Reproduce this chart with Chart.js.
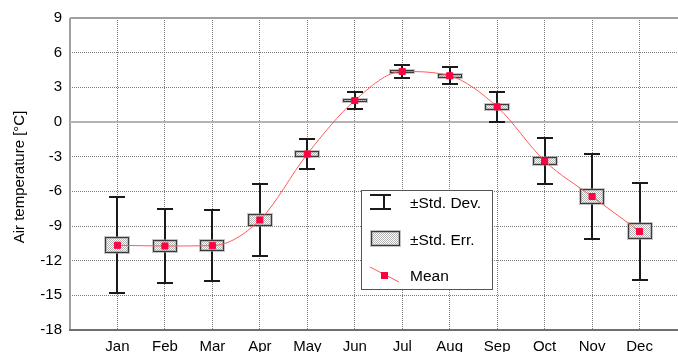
<!DOCTYPE html>
<html>
<head>
<meta charset="utf-8">
<script src="https://cdn.jsdelivr.net/npm/chart.js@4/dist/chart.umd.min.js"></script>
<style>
  html, body { margin: 0; padding: 0; background: #fff; }
  #wrap { width: 678px; height: 352px; overflow: hidden; position: relative; }
  canvas { display: block; }
</style>
</head>
<body>
<div id="wrap"><canvas id="c" width="700" height="365"></canvas></div>
<script>
// Monthly air temperature statistics
const months = ['Jan', 'Feb', 'Mar', 'Apr', 'May', 'Jun', 'Jul', 'Aug', 'Sep', 'Oct', 'Nov', 'Dec'];
const meanTemp = [-10.67, -10.73, -10.70, -8.48, -2.77, 1.86, 4.37, 4.00, 1.31, -3.37, -6.45, -9.47];
const stdDev   = [4.17, 3.23, 3.05, 3.14, 1.30, 0.74, 0.53, 0.72, 1.30, 1.96, 3.69, 4.16];
const stdErr   = [0.69, 0.53, 0.50, 0.53, 0.23, 0.15, 0.12, 0.16, 0.23, 0.33, 0.62, 0.69];
const yTicks   = [-18, -15, -12, -9, -6, -3, 0, 3, 6, 9];

const FONT = '"Liberation Sans", Arial, sans-serif';
const legendLabels = ['\u00B1Std. Dev.', '\u00B1Std. Err.', 'Mean'];
const yTitle = 'Air temperature [\u00B0C]';

const meanColor = 'rgb(255,0,64)';
const lineColor = 'rgb(255,90,90)';

// fine dotted fill used for the standard-error boxes
function dotPattern(ctx) {
  const p = document.createElement('canvas');
  p.width = 2; p.height = 2;
  const pc = p.getContext('2d');
  pc.fillStyle = '#ffffff';
  pc.fillRect(0, 0, 2, 2);
  pc.fillStyle = '#b4b4b4';
  pc.fillRect(0, 0, 1, 1);
  pc.fillRect(1, 1, 1, 1);
  return ctx.createPattern(p, 'repeat');
}

function drawSeBox(ctx, x0, y0, x1, y1, pattern) {
  ctx.fillStyle = pattern;
  ctx.fillRect(x0, y0, x1 - x0, y1 - y0);
  ctx.lineWidth = 3;
  ctx.strokeStyle = 'rgba(150,150,150,0.55)';
  ctx.strokeRect(x0 + 0.5, y0 + 0.5, x1 - x0 - 1, y1 - y0 - 1);
  ctx.lineWidth = 1;
  ctx.strokeStyle = '#3a3a3a';
  ctx.strokeRect(x0 + 0.5, y0 + 0.5, x1 - x0 - 1, y1 - y0 - 1);
}

// frame, zero line, whiskers and SE boxes (drawn under the mean line)
const errorBars = {
  id: 'errorBars',
  beforeDatasetsDraw(chart) {
    const { ctx, chartArea: a, scales: { x, y } } = chart;
    const pattern = dotPattern(ctx);
    ctx.save();

    // plot frame
    ctx.lineWidth = 2;
    ctx.strokeStyle = '#a0a0a0';
    ctx.beginPath();
    ctx.moveTo(a.left, a.top); ctx.lineTo(a.right, a.top);
    ctx.moveTo(a.left, a.top); ctx.lineTo(a.left, a.bottom);
    ctx.moveTo(a.right, a.top); ctx.lineTo(a.right, a.bottom);
    ctx.stroke();
    ctx.strokeStyle = '#6e6e6e';
    ctx.beginPath();
    ctx.moveTo(a.left - 1, a.bottom); ctx.lineTo(a.right, a.bottom);
    ctx.stroke();

    // zero reference line
    const y0 = Math.round(y.getPixelForValue(0));
    ctx.strokeStyle = '#b4b4b4';
    ctx.beginPath();
    ctx.moveTo(a.left, y0); ctx.lineTo(a.right, y0);
    ctx.stroke();

    months.forEach((m, i) => {
      const px = Math.round(x.getPixelForValue(i + 1));
      const top = Math.round(y.getPixelForValue(meanTemp[i] + stdDev[i]));
      const bot = Math.round(y.getPixelForValue(meanTemp[i] - stdDev[i]));
      // whisker
      ctx.lineWidth = 2;
      ctx.strokeStyle = '#1a1a1a';
      ctx.beginPath();
      ctx.moveTo(px, top); ctx.lineTo(px, bot);
      ctx.moveTo(px - 8, top); ctx.lineTo(px + 8, top);
      ctx.moveTo(px - 8, bot); ctx.lineTo(px + 8, bot);
      ctx.stroke();
      // standard-error box
      const bt = Math.round(y.getPixelForValue(meanTemp[i] + stdErr[i]));
      const bb = Math.round(y.getPixelForValue(meanTemp[i] - stdErr[i]));
      drawSeBox(ctx, px - 12, bt, px + 12, Math.max(bb, bt + 3), pattern);
    });
    ctx.restore();
  },
  afterDraw(chart) {
    const { ctx } = chart;
    const pattern = dotPattern(ctx);
    ctx.save();

    // y axis title
    ctx.fillStyle = '#000';
    ctx.font = '15px ' + FONT;
    ctx.textAlign = 'center';
    ctx.textBaseline = 'middle';
    ctx.translate(20, 177);
    ctx.rotate(-Math.PI / 2);
    ctx.fillText(yTitle, 0, 0);
    ctx.setTransform(1, 0, 0, 1, 0, 0);

    // legend box
    const lx = 361, ly = 190, lw = 131, lh = 99;
    ctx.fillStyle = '#fff';
    ctx.fillRect(lx, ly, lw, lh);
    ctx.lineWidth = 1;
    ctx.strokeStyle = '#555';
    ctx.strokeRect(lx + 0.5, ly + 0.5, lw, lh);

    // std. dev. symbol
    ctx.lineWidth = 2;
    ctx.strokeStyle = '#1a1a1a';
    ctx.beginPath();
    ctx.moveTo(370, 195); ctx.lineTo(391, 195);
    ctx.moveTo(370, 209); ctx.lineTo(391, 209);
    ctx.moveTo(384, 195); ctx.lineTo(384, 209);
    ctx.stroke();

    // std. err. symbol
    drawSeBox(ctx, 371, 231, 400, 246, pattern);

    // mean symbol
    ctx.lineWidth = 1;
    ctx.strokeStyle = lineColor;
    ctx.beginPath();
    ctx.moveTo(370, 267); ctx.lineTo(399, 282);
    ctx.stroke();
    ctx.fillStyle = meanColor;
    ctx.fillRect(381, 272, 7, 7);

    ctx.fillStyle = '#000';
    ctx.font = '15.5px ' + FONT;
    ctx.textAlign = 'left';
    ctx.textBaseline = 'middle';
    ctx.fillText(legendLabels[0], 410, 204);
    ctx.fillText(legendLabels[1], 410, 241);
    ctx.fillText(legendLabels[2], 410, 277);
    ctx.restore();
  }
};

new Chart(document.getElementById('c'), {
  type: 'line',
  data: {
    datasets: [{
      label: 'Mean',
      data: meanTemp.map((v, i) => ({ x: i + 1, y: v })),
      borderColor: lineColor,
      borderWidth: 1,
      cubicInterpolationMode: 'monotone',
      pointStyle: 'rect',
      pointRadius: 4.3,
      pointBorderWidth: 1,
      pointBackgroundColor: meanColor,
      pointBorderColor: meanColor,
      fill: false
    }]
  },
  options: {
    responsive: false,
    animation: false,
    devicePixelRatio: 1,
    layout: { padding: { left: 5, top: 18, right: 13, bottom: 0 } },
    plugins: { legend: { display: false }, tooltip: { enabled: false } },
    scales: {
      x: {
        type: 'linear',
        min: 0,
        max: 13,
        afterFit: s => { s.height = 35; },
        afterBuildTicks: s => { s.ticks = Array.from({ length: 14 }, (_, i) => ({ value: i })); },
        ticks: {
          autoSkip: false,
          maxRotation: 0,
          padding: 8,
          color: '#000',
          font: { family: FONT, size: 15 },
          callback: v => months[v - 1] || ''
        },
        grid: { color: '#7a7a7a', lineWidth: 1, drawTicks: false },
        border: { display: false, dash: [1, 1] }
      },
      y: {
        min: -18,
        max: 9,
        afterFit: s => { s.width = 65; },
        afterBuildTicks: s => { s.ticks = yTicks.map(v => ({ value: v })); },
        ticks: {
          padding: 8,
          color: '#000',
          font: { family: FONT, size: 15 },
          callback: v => String(v)
        },
        grid: { color: '#7a7a7a', lineWidth: 1, drawTicks: false },
        border: { display: false, dash: [1, 1] }
      }
    }
  },
  plugins: [errorBars]
});
</script>
</body>
</html>
